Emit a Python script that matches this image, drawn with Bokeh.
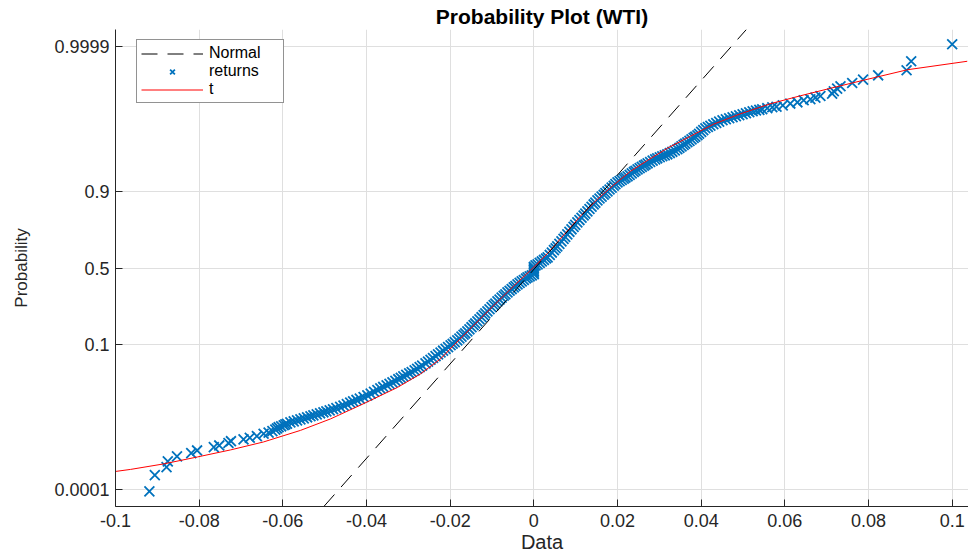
from statistics import NormalDist
from bokeh.plotting import figure
from bokeh.models import Range1d, FixedTicker, CustomJSTickFormatter, Legend, LegendItem
from bokeh.embed import file_html
from bokeh.resources import INLINE

title_text = "Probability Plot (WTI)"
x_label = "Data"
y_label = "Probability"
x_ticks = [-0.1, -0.08, -0.06, -0.04, -0.02, 0.0, 0.02, 0.04, 0.06, 0.08, 0.1]
prob_ticks = [0.0001, 0.1, 0.5, 0.9, 0.9999]
prob_tick_labels = ["0.0001", "0.1", "0.5", "0.9", "0.9999"]

# sorted WTI returns and their normal scores (probability axis position)
returns_x = [
    -0.0919, -0.0906, -0.0878, -0.0875, -0.0853, -0.0819, -0.0805, -0.0765, -0.0752, -0.0730,
    -0.0724, -0.0694, -0.0679, -0.0662, -0.0646, -0.0634, -0.0625, -0.0618, -0.0614, -0.0610,
    -0.0604, -0.0598, -0.0594,
    -0.0590, -0.0582, -0.0574, -0.0566, -0.0558, -0.0550, -0.0542, -0.0534, -0.0527, -0.0519,
    -0.0511, -0.0503, -0.0496, -0.0488, -0.0480, -0.0472, -0.0463, -0.0455, -0.0447, -0.0439,
    -0.0432, -0.0424, -0.0416, -0.0407, -0.0398, -0.0390, -0.0382, -0.0374, -0.0367, -0.0360,
    -0.0352, -0.0345, -0.0338, -0.0331, -0.0324, -0.0318, -0.0312, -0.0305, -0.0298, -0.0292,
    -0.0285, -0.0279, -0.0273, -0.0267, -0.0259, -0.0253, -0.0247, -0.0241, -0.0235, -0.0229,
    -0.0223, -0.0217, -0.0211, -0.0205, -0.0199, -0.0194, -0.0189, -0.0183, -0.0178, -0.0173,
    -0.0168, -0.0164, -0.0159, -0.0154, -0.0149, -0.0144, -0.0140, -0.0135, -0.0130, -0.0125,
    -0.0120, -0.0116, -0.0111, -0.0106, -0.0101, -0.0096, -0.0092, -0.0087, -0.0082, -0.0077,
    -0.0072, -0.0068, -0.0063, -0.0058, -0.0053, -0.0048, -0.0044, -0.0039, -0.0034, -0.0029,
    -0.0024, -0.0019, -0.0015, -0.0010, -0.0005,
    0.0, 0.0, 0.0, 0.0, 0.0, 0.0,
    0.0004, 0.0009, 0.0014, 0.0019, 0.0024, 0.0029, 0.0033, 0.0038, 0.0043, 0.0048,
    0.0052, 0.0056, 0.0061, 0.0066, 0.0071, 0.0075, 0.0080, 0.0085, 0.0090, 0.0095,
    0.0099, 0.0104, 0.0109, 0.0114, 0.0119, 0.0123, 0.0128, 0.0133, 0.0138, 0.0143,
    0.0147, 0.0152, 0.0157, 0.0162, 0.0167, 0.0171, 0.0176, 0.0181, 0.0186, 0.0191,
    0.0195, 0.0200, 0.0205, 0.0210, 0.0215, 0.0219, 0.0224, 0.0229, 0.0234, 0.0239,
    0.0243, 0.0248, 0.0253, 0.0258, 0.0263, 0.0267, 0.0272, 0.0278, 0.0284, 0.0290,
    0.0295, 0.0301, 0.0307, 0.0313, 0.0319, 0.0325, 0.0331, 0.0337, 0.0343, 0.0348,
    0.0353, 0.0358, 0.0362, 0.0367, 0.0372, 0.0377, 0.0382, 0.0386, 0.0391, 0.0395,
    0.0400, 0.0405, 0.0410, 0.0416, 0.0422, 0.0429, 0.0436, 0.0443, 0.0451, 0.0459,
    0.0467, 0.0475, 0.0483, 0.0491, 0.0499, 0.0507, 0.0515, 0.0523, 0.0531, 0.0539,
    0.0546, 0.0558, 0.0570,
    0.0580, 0.0595, 0.0613, 0.0630, 0.0645, 0.0661, 0.0673, 0.0685, 0.0713, 0.0717,
    0.0725, 0.0733, 0.0761, 0.0787, 0.0823, 0.0891, 0.0902, 0.1000,
]
returns_score = [
    -3.747, -3.474, -3.340, -3.244, -3.160, -3.105, -3.060, -3.004, -2.976, -2.935,
    -2.905, -2.875, -2.847, -2.820, -2.780, -2.760, -2.735, -2.710, -2.690, -2.670,
    -2.655, -2.637, -2.623,
    -2.612, -2.590, -2.573, -2.556, -2.539, -2.522, -2.504, -2.487, -2.472, -2.455,
    -2.437, -2.420, -2.405, -2.387, -2.369, -2.351, -2.330, -2.306, -2.282, -2.258,
    -2.237, -2.213, -2.190, -2.163, -2.137, -2.107, -2.076, -2.046, -2.019, -1.995,
    -1.967, -1.943, -1.919, -1.892, -1.865, -1.842, -1.818, -1.792, -1.766, -1.744,
    -1.717, -1.690, -1.663, -1.636, -1.600, -1.570, -1.539, -1.509, -1.478, -1.448,
    -1.417, -1.387, -1.356, -1.326, -1.295, -1.270, -1.244, -1.214, -1.183, -1.151,
    -1.120, -1.095, -1.063, -1.028, -0.993, -0.958, -0.930, -0.895, -0.860, -0.825,
    -0.790, -0.762, -0.727, -0.692, -0.657, -0.622, -0.595, -0.560, -0.529, -0.497,
    -0.466, -0.441, -0.409, -0.381, -0.353, -0.325, -0.302, -0.274, -0.250, -0.225,
    -0.201, -0.176, -0.157, -0.140, -0.125,
    -0.105, -0.080, -0.055, -0.030, -0.005, 0.020,
    0.045, 0.061, 0.086, 0.110, 0.135, 0.159, 0.179, 0.219, 0.259, 0.299,
    0.331, 0.363, 0.405, 0.447, 0.489, 0.523, 0.565, 0.607, 0.649, 0.690,
    0.724, 0.766, 0.804, 0.843, 0.881, 0.912, 0.950, 0.989, 1.027, 1.066,
    1.097, 1.135, 1.166, 1.198, 1.229, 1.255, 1.286, 1.317, 1.349, 1.380,
    1.406, 1.437, 1.458, 1.479, 1.500, 1.517, 1.538, 1.562, 1.587, 1.611,
    1.631, 1.655, 1.676, 1.697, 1.718, 1.735, 1.756, 1.778, 1.800, 1.822,
    1.840, 1.857, 1.874, 1.890, 1.907, 1.928, 1.949, 1.970, 1.991, 2.016,
    2.040, 2.065, 2.085, 2.109, 2.133, 2.158, 2.182, 2.202, 2.226, 2.251,
    2.282, 2.313, 2.344, 2.365, 2.386, 2.411, 2.432, 2.454, 2.478, 2.495,
    2.511, 2.528, 2.545, 2.562, 2.579, 2.596, 2.612, 2.629, 2.641, 2.653,
    2.663, 2.680, 2.696,
    2.704, 2.728, 2.758, 2.779, 2.813, 2.830, 2.858, 2.885, 2.925, 2.964,
    3.009, 3.048, 3.103, 3.160, 3.232, 3.316, 3.467, 3.752,
]

# fitted t location-scale distribution (red curve)
t_fit_x = [-0.1000, -0.0964, -0.0885, -0.0804, -0.0725, -0.0646, -0.0558, -0.0486, -0.0408,
           -0.0326, -0.0271, -0.0223, -0.0190, -0.0128, -0.0087, -0.0049, -0.0008, 0.0033,
           0.0071, 0.0111, 0.0152, 0.0190, 0.0231, 0.0272, 0.0319, 0.0374, 0.0429, 0.0494,
           0.0565, 0.0637, 0.0709, 0.0788, 0.0893, 0.1036]
t_fit_score = [-3.412, -3.378, -3.286, -3.169, -3.051, -2.917, -2.724, -2.531, -2.279,
               -2.003, -1.776, -1.524, -1.286, -0.853, -0.568, -0.308, -0.039, 0.246,
               0.548, 0.867, 1.152, 1.387, 1.622, 1.806, 2.008, 2.209, 2.410, 2.586,
               2.754, 2.888, 3.014, 3.149, 3.325, 3.467]

# fitted normal reference line (dashed)
normal_fit_x = [-0.0502, 0.0508]
normal_fit_score = [-4.0, 4.0]

nd = NormalDist()
y_tick_pos = [nd.inv_cdf(v) for v in prob_ticks]

FONT = "Liberation Sans"
AX = "#262626"

p = figure(width=968, height=555, x_range=Range1d(-0.1, 0.1039), y_range=Range1d(-4, 4),
           output_backend="svg", toolbar_location=None,
           min_border_left=115, min_border_right=0, min_border_top=0, min_border_bottom=0)
p.outline_line_color = None
p.background_fill_color = "white"

p.title.text = title_text
p.title.align = "center"
p.title.text_font = FONT
p.title.text_font_size = "21px"
p.title.text_font_style = "bold"
p.title.text_color = "#000000"
p.title.standoff = 4

xt = FixedTicker(ticks=x_ticks)
yt = FixedTicker(ticks=y_tick_pos)
p.xaxis.ticker = xt
p.yaxis.ticker = yt
p.xgrid.ticker = xt
p.ygrid.ticker = yt
p.xaxis.formatter = CustomJSTickFormatter(code="return String(parseFloat(tick.toFixed(2)));")
p.yaxis.formatter = CustomJSTickFormatter(args=dict(pos=y_tick_pos, labels=prob_tick_labels), code="""
let best = 0, d = Infinity;
for (let i = 0; i < pos.length; i++) { const e = Math.abs(pos[i] - tick); if (e < d) { d = e; best = i; } }
return labels[best];
""")
p.xaxis.axis_label = x_label
p.yaxis.axis_label = y_label

for ax in (p.xaxis[0], p.yaxis[0]):
    ax.axis_line_color = AX
    ax.axis_line_width = 1
    ax.major_tick_line_color = AX
    ax.minor_tick_line_color = None
    ax.major_tick_in = 7
    ax.major_tick_out = 0
    ax.major_label_text_font = FONT
    ax.major_label_text_font_size = "18px"
    ax.major_label_text_color = AX
    ax.major_label_standoff = 6
    ax.axis_label_text_font = FONT
    ax.axis_label_text_font_style = "normal"
    ax.axis_label_text_color = AX
p.xaxis.major_label_standoff = 7
p.xaxis.axis_label_text_font_size = "20px"
p.yaxis.axis_label_text_font_size = "17px"
p.xaxis.axis_label_standoff = 1
p.yaxis.axis_label_standoff = 20

for g in (p.xgrid, p.ygrid):
    g.grid_line_color = "#dfdfdf"
    g.grid_line_width = 1

r_ret = p.scatter(returns_x, returns_score, marker="x", size=14, line_color="#0072BD", line_width=1.8)
r_t = p.line(t_fit_x, t_fit_score, line_color="#FF0000", line_width=1)
r_norm = p.line(normal_fit_x, normal_fit_score, line_color="#000000", line_width=1, line_dash="16 10")

legend = Legend(items=[LegendItem(label="Normal", renderers=[r_norm]),
                       LegendItem(label="returns", renderers=[r_ret]),
                       LegendItem(label="t", renderers=[r_t])],
                location=(21, 403))
legend.label_text_font = FONT
legend.label_text_font_size = "16px"
legend.label_text_color = "#000000"
legend.border_line_color = AX
legend.border_line_width = 1
legend.background_fill_color = "white"
legend.background_fill_alpha = 1
legend.glyph_width = 62
legend.glyph_height = 17
legend.label_height = 17
legend.label_width = 70
legend.label_standoff = 6
legend.spacing = 0
legend.padding = 4
legend.margin = 0
p.add_layout(legend)

open("out.html", "w").write(file_html(p, INLINE))
